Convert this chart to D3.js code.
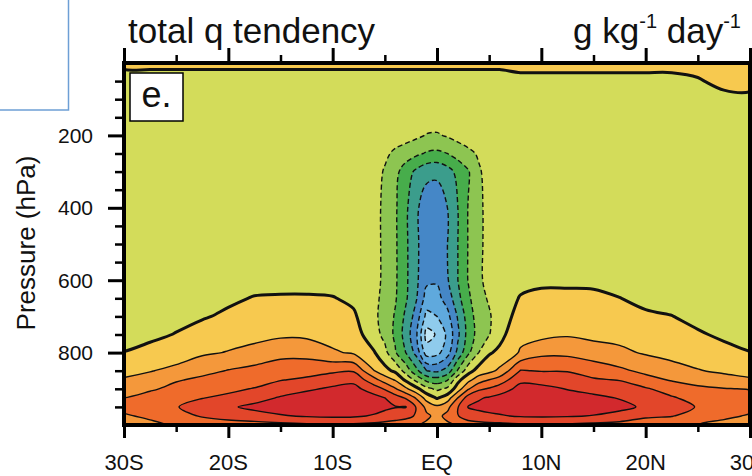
<!DOCTYPE html>
<html>
<head>
<meta charset="utf-8">
<script src="https://cdn.jsdelivr.net/npm/d3@7"></script>
<style>
  body { margin: 0; background: #fff; }
  svg { display: block; font-family: "Liberation Sans", Arial, Helvetica, sans-serif; }
</style>
</head>
<body>
<div id="chart"></div>
<script>
// grid columns: latitude (deg, negative = south)
const lats = [-30, -27.5, -25, -22.5, -20, -17.5, -15, -12.5, -10, -8, -6, -5, -4, -3, -2, -1,
  0, 1, 2, 3, 4, 5, 6, 8, 10, 12.5, 15, 17.5, 20, 22.5, 25, 27.5, 30];

// grid rows: pressure (hPa)
const levels = [0, 50, 100, 150, 200, 250, 300, 400, 500, 600, 650, 700, 750, 800,
  850, 875, 900, 925, 950, 975, 1000];

// total q tendency (g/kg/day), one row per pressure level
const qRows = [
  [0.4,0.4,0.4,0.4,0.4,0.4,0.4,0.4,0.4,0.4,0.4,0.4,0.4,0.4,0.4,0.4,0.4,0.4,0.4,0.4,0.4,0.4,0.4,0.4,0.4,0.4,0.4,0.4,0.4,0.4,0.4,0.4,0.4],
  [-0.7,-0.7,-0.7,-0.7,-0.7,-0.7,-0.7,-0.7,-0.7,-0.7,-0.7,-0.7,-0.7,-0.7,-0.7,-0.7,-0.7,-0.7,-0.7,-0.7,-0.7,-0.7,-0.7,-0.35,-0.35,-0.35,-0.35,-0.35,-0.35,-0.35,-0.1,0.3,0.35],
  [-0.5,-0.5,-0.5,-0.5,-0.5,-0.5,-0.5,-0.5,-0.5,-0.5,-0.5,-0.5,-0.5,-0.5,-0.5,-0.5,-0.5,-0.5,-0.5,-0.5,-0.5,-0.5,-0.5,-0.5,-0.5,-0.5,-0.5,-0.5,-0.5,-0.5,-0.5,-0.3,-0.25],
  [-0.5,-0.5,-0.5,-0.5,-0.5,-0.5,-0.5,-0.5,-0.5,-0.5,-0.5,-0.5,-0.5,-0.5,-0.5,-0.5,-0.5,-0.5,-0.5,-0.5,-0.5,-0.5,-0.5,-0.5,-0.5,-0.5,-0.5,-0.5,-0.5,-0.5,-0.5,-0.5,-0.5],
  [-0.5,-0.5,-0.5,-0.5,-0.5,-0.5,-0.5,-0.5,-0.5,-0.5,-0.5,-0.5,-0.5,-0.6,-0.8,-1.05,-1.1,-0.9,-0.65,-0.55,-0.5,-0.5,-0.5,-0.5,-0.5,-0.5,-0.5,-0.5,-0.5,-0.5,-0.5,-0.5,-0.5],
  [-0.5,-0.5,-0.5,-0.5,-0.5,-0.5,-0.5,-0.5,-0.5,-0.5,-0.5,-0.8,-1.2,-1.5,-1.8,-2.1,-2.2,-2.0,-1.6,-1.2,-0.9,-0.6,-0.5,-0.5,-0.5,-0.5,-0.5,-0.5,-0.5,-0.5,-0.5,-0.5,-0.5],
  [-0.5,-0.5,-0.5,-0.5,-0.5,-0.5,-0.5,-0.5,-0.5,-0.5,-0.6,-1.1,-1.7,-2.5,-3.2,-3.7,-3.8,-3.4,-2.7,-2.1,-1.1,-0.7,-0.55,-0.5,-0.5,-0.5,-0.5,-0.5,-0.5,-0.5,-0.5,-0.5,-0.5],
  [-0.5,-0.5,-0.5,-0.5,-0.5,-0.5,-0.5,-0.5,-0.5,-0.5,-0.7,-1.2,-1.85,-2.8,-3.8,-4.6,-4.6,-4.0,-3.0,-1.95,-1.2,-0.7,-0.55,-0.5,-0.5,-0.5,-0.5,-0.5,-0.5,-0.5,-0.5,-0.5,-0.5],
  [-0.5,-0.5,-0.5,-0.5,-0.5,-0.5,-0.5,-0.5,-0.5,-0.5,-0.7,-1.2,-1.85,-2.8,-3.8,-4.6,-4.7,-4.0,-3.0,-1.95,-1.2,-0.7,-0.55,-0.5,-0.5,-0.5,-0.5,-0.5,-0.5,-0.5,-0.5,-0.5,-0.5],
  [-0.5,-0.5,-0.45,-0.45,-0.4,-0.3,-0.35,-0.35,-0.4,-0.45,-0.7,-1.2,-1.85,-2.8,-3.8,-4.8,-4.9,-4.1,-3.0,-1.95,-1.15,-0.75,-0.55,-0.3,-0.2,-0.2,-0.2,-0.4,-0.5,-0.5,-0.5,-0.5,-0.5],
  [-0.45,-0.4,-0.35,-0.3,-0.15,0.05,0.1,0.1,0.05,-0.2,-0.75,-1.3,-1.9,-2.85,-3.9,-5.4,-5.3,-4.6,-3.3,-2.2,-1.3,-0.9,-0.6,0.07,0.25,0.25,0.2,0.02,-0.25,-0.35,-0.45,-0.5,-0.5],
  [-0.35,-0.3,-0.2,-0.08,0.15,0.35,0.45,0.45,0.35,0.15,-0.8,-1.4,-2.1,-3.2,-4.4,-6.3,-6.0,-5.3,-3.9,-2.5,-1.5,-1.1,-0.55,0.4,0.55,0.6,0.5,0.35,0.15,0.02,-0.25,-0.4,-0.45],
  [-0.3,-0.15,0.03,0.35,0.6,0.7,0.85,0.8,0.55,0.45,-0.6,-1.3,-2.2,-3.4,-4.8,-7.4,-6.9,-5.8,-4.2,-2.6,-1.6,-1.05,-0.3,0.75,0.7,0.9,0.75,0.7,0.5,0.35,0.1,-0.15,-0.3],
  [0.02,0.2,0.5,0.85,1.05,1.3,1.6,1.65,1.15,0.85,0.05,-0.7,-1.9,-3.0,-4.3,-6.5,-6.3,-5.4,-3.7,-2.2,-1.0,-0.1,0.2,1.1,1.75,1.75,1.45,1.2,0.9,0.7,0.55,0.25,0.02],
  [0.7,0.95,1.25,1.7,2.05,2.3,2.7,2.65,2.8,2.9,1.0,0.3,-0.2,-1.4,-2.7,-4.0,-4.2,-3.6,-1.9,-0.4,0.4,0.7,1.2,3.05,2.95,2.95,2.6,2.2,1.75,1.35,1.05,0.85,0.7],
  [1.1,1.35,1.9,2.2,2.45,2.6,2.95,3.15,3.6,3.75,2.3,1.5,0.9,-0.2,-1.3,-2.3,-2.6,-2.1,-0.3,0.7,1.5,2.0,2.4,3.8,3.6,3.4,3.1,2.95,2.35,1.9,1.6,1.3,1.1],
  [1.5,1.85,2.3,2.6,2.8,3.05,3.5,3.85,4.15,4.3,3.5,2.9,2.1,1.2,0.3,-0.7,-1.2,-0.8,0.5,1.9,2.8,3.1,3.5,4.3,4.3,3.95,3.7,3.5,3.1,2.6,2.2,2.05,1.95],
  [2.0,2.4,2.75,2.97,3.2,3.6,4.1,4.4,4.6,4.6,4.3,4.0,3.5,2.9,1.9,0.6,-0.1,0.5,2.0,3.5,3.9,4.1,4.3,4.6,4.7,4.45,4.2,3.95,3.5,3.1,2.65,2.4,2.3],
  [2.5,2.8,2.95,3.4,3.85,4.25,4.5,4.7,4.7,4.6,4.4,4.2,4.05,4.05,2.95,1.7,1.2,1.7,2.95,4.05,4.2,4.35,4.45,4.65,4.75,4.7,4.5,4.25,3.85,3.35,2.95,2.55,2.3],
  [1.8,2.3,2.6,3.1,3.4,3.6,3.9,4.1,4.2,4.15,3.9,3.7,3.5,3.3,2.9,2.2,1.7,2.3,2.95,3.6,3.7,3.8,3.9,4.1,4.15,4.1,3.95,3.7,3.2,3.05,2.6,2.2,1.9],
  [1.3,1.6,2.2,2.3,2.5,2.6,2.7,2.8,2.8,2.8,2.7,2.6,2.5,2.4,2.1,1.8,1.5,1.8,2.1,2.4,2.6,2.7,2.7,2.8,2.8,2.8,2.7,2.6,2.3,2.3,2.0,1.7,1.5]
];

// contour levels and the fill of each band (first = below lowest level)
const contourLevels = [-7, -6, -5, -4, -3, -2, -1, 0, 1, 2, 3, 4];
const bandColors = ['#c2e7f6', '#8fcbec', '#5fa9dd', '#4587c7', '#3b9d8c', '#47ad4b', '#8dc551',
  '#d3dc5a', '#f7c94f', '#f4983b', '#ef6b2b', '#e2462a', '#d2292d'];

const xTicks = [-30, -20, -10, 0, 10, 20, 30];
const xTickLabels = ['30S', '20S', '10S', 'EQ', '10N', '20N', '30N'];
const xMinorTicks = [-25, -15, -5, 5, 15, 25];
const yTicks = [200, 400, 600, 800];
const yMinorTicks = [50, 100, 150, 250, 300, 350, 450, 500, 550, 650, 700, 750, 850, 900, 950];

// LAYOUT
let width = 752, height = 476;
let plotLeft = 124, plotRight = 750, plotTop = 63, plotBottom = 425;

let svg = d3.select('#chart')
  .append('svg')
  .attr('width', width)
  .attr('height', height);

// stray box in the corner of the source image
svg.append('rect')
  .attr('x', -2).attr('y', -2)
  .attr('width', 70.5).attr('height', 112)
  .attr('fill', '#fff')
  .attr('stroke', '#6d9fd5')
  .attr('stroke-width', 1.5);

// Scales
let xScale = d3.scaleLinear().domain([-30, 30]).range([plotLeft, plotRight]);
let yScale = d3.scaleLinear().domain([0, 1000]).range([plotTop, plotBottom]);

svg.append('clipPath')
  .attr('id', 'plotclip')
  .append('rect')
  .attr('x', plotLeft).attr('y', plotTop)
  .attr('width', plotRight - plotLeft).attr('height', plotBottom - plotTop);

let plot = svg.append('g').attr('clip-path', 'url(#plotclip)');

// grid coordinate (cell centres at i + 0.5) -> data value, extended past the edges
function gridPos(arr, c) {
  let n = arr.length, i = c - 0.5;
  if (i <= 0) return arr[0] + i * (arr[1] - arr[0]);
  if (i >= n - 1) return arr[n - 1] + (i - n + 1) * (arr[n - 1] - arr[n - 2]);
  let k = Math.floor(i);
  return arr[k] + (i - k) * (arr[k + 1] - arr[k]);
}

let ringLine = d3.line().curve(d3.curveCatmullRomClosed.alpha(0.5));

function contourPath(geom) {
  return geom.coordinates.map(poly => poly.map(ring => {
    let pts = ring.slice(0, -1).map(([cx, cy]) => [xScale(gridPos(lats, cx)), yScale(gridPos(levels, cy))]);
    return ringLine(pts);
  }).join('')).join('');
}

let contours = d3.contours()
  .size([lats.length, levels.length])
  .thresholds(contourLevels)(qRows.flat());

// filled bands
plot.append('rect')
  .attr('x', plotLeft).attr('y', plotTop)
  .attr('width', plotRight - plotLeft).attr('height', plotBottom - plotTop)
  .attr('fill', bandColors[0]);

plot.selectAll('path.band')
  .data(contours)
  .enter()
  .append('path')
  .attr('class', 'band')
  .attr('d', contourPath)
  .attr('fill', (d, i) => bandColors[i + 1])
  .attr('fill-rule', 'evenodd');

// contour lines: dashed negative, thick zero, thin positive
plot.selectAll('path.cline')
  .data(contours)
  .enter()
  .append('path')
  .attr('class', 'cline')
  .attr('d', contourPath)
  .attr('fill', 'none')
  .attr('stroke', '#111')
  .attr('stroke-width', d => d.value === 0 ? 3 : 1.4)
  .attr('stroke-dasharray', d => d.value < 0 ? '5,3' : null)
  .attr('stroke-linejoin', 'round');

// Axes
function styleAxis(g, w) {
  g.select('.domain').remove();
  g.selectAll('line').attr('stroke', '#000').attr('stroke-width', w);
}

svg.append('g')
  .attr('transform', `translate(0, ${plotBottom})`)
  .call(d3.axisBottom(xScale).tickValues(xMinorTicks).tickSize(7).tickFormat(''))
  .call(g => styleAxis(g, 2.5));
svg.append('g')
  .attr('transform', `translate(0, ${plotBottom})`)
  .call(d3.axisBottom(xScale).tickValues(xTicks).tickSize(13).tickFormat(''))
  .call(g => styleAxis(g, 3));
svg.append('g')
  .attr('transform', `translate(0, ${plotTop})`)
  .call(d3.axisTop(xScale).tickValues(xMinorTicks).tickSize(8).tickFormat(''))
  .call(g => styleAxis(g, 2.5));
svg.append('g')
  .attr('transform', `translate(0, ${plotTop})`)
  .call(d3.axisTop(xScale).tickValues(xTicks).tickSize(15).tickFormat(''))
  .call(g => styleAxis(g, 3));
svg.append('g')
  .attr('transform', `translate(${plotLeft}, 0)`)
  .call(d3.axisLeft(yScale).tickValues(yMinorTicks).tickSize(9).tickFormat(''))
  .call(g => styleAxis(g, 2.5));
svg.append('g')
  .attr('transform', `translate(${plotLeft}, 0)`)
  .call(d3.axisLeft(yScale).tickValues(yTicks).tickSize(16).tickFormat(''))
  .call(g => styleAxis(g, 3));

// frame
svg.append('rect')
  .attr('x', plotLeft).attr('y', plotTop)
  .attr('width', plotRight - plotLeft).attr('height', plotBottom - plotTop)
  .attr('fill', 'none')
  .attr('stroke', '#000')
  .attr('stroke-width', 4);

// tick labels
svg.selectAll('text.xlab')
  .data(xTicks)
  .enter()
  .append('text')
  .attr('class', 'xlab')
  .attr('x', d => xScale(d))
  .attr('y', 470)
  .attr('text-anchor', 'middle')
  .style('font-size', '22px')
  .style('fill', '#111')
  .text((d, i) => xTickLabels[i]);

svg.selectAll('text.ylab')
  .data(yTicks)
  .enter()
  .append('text')
  .attr('class', 'ylab')
  .attr('x', 93)
  .attr('y', d => yScale(d))
  .attr('dy', '0.36em')
  .attr('text-anchor', 'end')
  .style('font-size', '21px')
  .style('fill', '#111')
  .text(d => d);

svg.append('text')
  .attr('transform', 'translate(35, 243) rotate(-90)')
  .attr('text-anchor', 'middle')
  .style('font-size', '26px')
  .style('fill', '#111')
  .text('Pressure (hPa)');

// titles
svg.append('text')
  .attr('x', 128)
  .attr('y', 43)
  .style('font-size', '35px')
  .style('fill', '#111')
  .text('total q tendency');

let units = svg.append('text')
  .attr('x', 741)
  .attr('y', 43)
  .attr('text-anchor', 'end')
  .style('font-size', '35px')
  .style('fill', '#111');
units.append('tspan').text('g kg');
units.append('tspan').attr('dy', -15).style('font-size', '20px').text('-1');
units.append('tspan').attr('dy', 15).text(' day');
units.append('tspan').attr('dy', -15).style('font-size', '20px').text('-1');

// panel label
svg.append('rect')
  .attr('x', 130).attr('y', 73)
  .attr('width', 53).attr('height', 48)
  .attr('fill', '#fff')
  .attr('stroke', '#000')
  .attr('stroke-width', 1.5);
svg.append('text')
  .attr('x', 156.5)
  .attr('y', 107)
  .attr('text-anchor', 'middle')
  .style('font-size', '36px')
  .style('fill', '#111')
  .text('e.');
</script>
</body>
</html>
